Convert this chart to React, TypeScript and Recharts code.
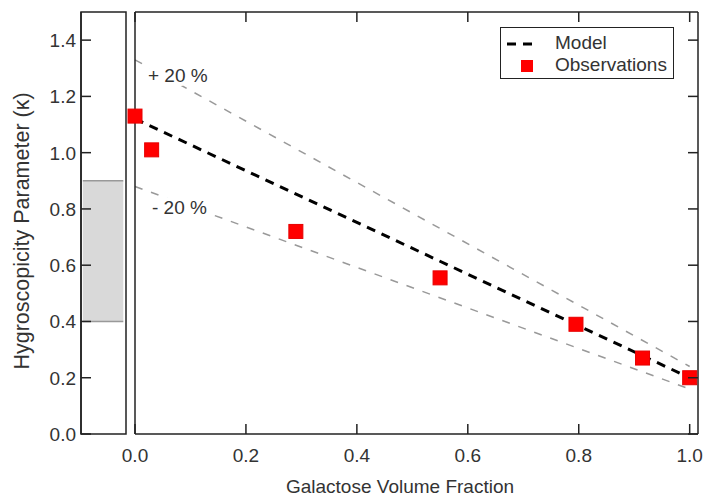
import {
  ComposedChart,
  Area,
  Line,
  Scatter,
  XAxis,
  YAxis,
  ReferenceArea,
  Legend,
} from "recharts";

// observations
const obsFraction = [0, 0.03, 0.29, 0.55, 0.795, 0.915, 1.0];
const obsKappa = [1.13, 1.01, 0.72, 0.555, 0.39, 0.27, 0.2];

// model line and +/- 20 % envelope (end points)
const lineFraction = [0, 1];
const modelKappa = [1.12, 0.2];
const upperKappa = [1.33, 0.24];
const lowerKappa = [0.88, 0.16];

// shaded range in the left panel
const rangeX = [0.04, 0.94];
const kappaRangeLow = 0.4;
const kappaRangeHigh = 0.9;

const xTicks = [0, 0.2, 0.4, 0.6, 0.8, 1.0];
const yTicks = [0, 0.2, 0.4, 0.6, 0.8, 1.0, 1.2, 1.4];

const FONT = '"Liberation Sans", Arial, sans-serif';
const TEXT = "#333";
const AXIS = "#222";

const obsData = obsFraction.map((x, i) => ({ x, y: obsKappa[i] }));
const toLine = (ys: number[]) => lineFraction.map((x, i) => ({ x, y: ys[i] }));
const modelData = toLine(modelKappa);
const upperData = toLine(upperKappa);
const lowerData = toLine(lowerKappa);
const rangeData = rangeX.map((x) => ({ x, lo: kappaRangeLow, hi: kappaRangeHigh }));

const BottomTick = (props: any) => {
  const { x, y, payload } = props;
  return (
    <g>
      <line x1={x} y1={y} x2={x} y2={y - 10} stroke={AXIS} strokeWidth={1.5} />
      <text x={x} y={y + 28} textAnchor="middle" fill={TEXT} fontSize={19} fontFamily={FONT}>
        {Number(payload.value).toFixed(1)}
      </text>
    </g>
  );
};

const TopTick = (props: any) => {
  const { x, y } = props;
  return <line x1={x} y1={y} x2={x} y2={y + 10} stroke={AXIS} strokeWidth={1.5} />;
};

const RightTick = (props: any) => {
  const { x, y } = props;
  return <line x1={x} y1={y} x2={x - 10} y2={y} stroke={AXIS} strokeWidth={1.5} />;
};

const LeftTick = (props: any) => {
  const { x, y, payload } = props;
  return (
    <g>
      <line x1={x} y1={y} x2={x + 10} y2={y} stroke={AXIS} strokeWidth={1.5} />
      <text x={x - 5} y={y + 7} textAnchor="end" fill={TEXT} fontSize={19} fontFamily={FONT}>
        {Number(payload.value).toFixed(1)}
      </text>
    </g>
  );
};

const SquareDot = (props: any) => {
  const { cx, cy } = props;
  return <rect x={cx - 7} y={cy - 7} width={14} height={14} fill="#ff0000" stroke="#e60000" strokeWidth={1} />;
};

const renderLegend = () => (
  <div
    style={{
      width: 172,
      height: 50,
      border: `1.5px solid ${AXIS}`,
      background: "#fff",
      fontFamily: FONT,
      fontSize: 19,
      color: TEXT,
      position: "relative",
    }}
  >
    <svg width={40} height={50} style={{ position: "absolute", left: 0, top: 0 }}>
      <line x1={6} y1={16} x2={36} y2={16} stroke="#000" strokeWidth={3} strokeDasharray="9 7" />
      <rect x={20} y={32} width={12} height={12} fill="#ff0000" />
    </svg>
    <div style={{ position: "absolute", left: 54, top: 4, lineHeight: "22px" }}>Model</div>
    <div style={{ position: "absolute", left: 54, top: 26, lineHeight: "22px" }}>Observations</div>
  </div>
);

export default function App() {
  return (
    <div style={{ position: "absolute", left: 0, top: 0, width: 704, height: 497, background: "#fff" }}>
      <div style={{ position: "absolute", left: 0, top: 0 }}>
        <ComposedChart
          width={130}
          height={497}
          data={rangeData}
          margin={{ top: 12, right: 4, bottom: 63, left: 0 }}
        >
          <XAxis type="number" dataKey="x" domain={[0, 1]} hide />
          <YAxis
            type="number"
            domain={[0, 1.5]}
            ticks={yTicks}
            width={81}
            tickSize={0}
            tickMargin={0}
            tickLine={false}
            tick={<LeftTick />}
            axisLine={{ stroke: AXIS, strokeWidth: 1.5 }}
            interval={0}
          />
          <Area
            type="linear"
            dataKey={(d: any) => [d.lo, d.hi]}
            fill="#d9d9d9"
            fillOpacity={1}
            stroke="none"
            isAnimationActive={false}
          />
          <Line type="linear" dataKey="hi" stroke="#999" strokeWidth={1.5} dot={false} isAnimationActive={false} />
          <Line type="linear" dataKey="lo" stroke="#999" strokeWidth={1.5} dot={false} isAnimationActive={false} />
          <ReferenceArea x1={0} x2={1} y1={0} y2={1.5} fill="none" stroke={AXIS} strokeWidth={1.5} />
        </ComposedChart>
      </div>
      <div style={{ position: "absolute", left: 0, top: 0 }}>
        <ComposedChart width={704} height={497} margin={{ top: 11, right: 5, bottom: 33, left: 134 }}>
          <XAxis
            xAxisId="bottom"
            type="number"
            dataKey="x"
            domain={[0, 1.015]}
            ticks={xTicks}
            height={30}
            tickSize={0}
            tickMargin={0}
            tickLine={false}
            tick={<BottomTick />}
            axisLine={{ stroke: AXIS, strokeWidth: 1.5 }}
            interval={0}
          />
          <XAxis
            xAxisId="top"
            orientation="top"
            type="number"
            dataKey="x"
            domain={[0, 1.015]}
            ticks={xTicks}
            height={1}
            tickSize={0}
            tickMargin={0}
            tickLine={false}
            tick={<TopTick />}
            axisLine={{ stroke: AXIS, strokeWidth: 1.5 }}
            interval={0}
          />
          <YAxis
            yAxisId="left"
            type="number"
            domain={[0, 1.5]}
            ticks={yTicks}
            width={1}
            tick={false}
            tickLine={false}
            axisLine={{ stroke: AXIS, strokeWidth: 1.5 }}
          />
          <YAxis
            yAxisId="right"
            orientation="right"
            type="number"
            domain={[0, 1.5]}
            ticks={yTicks}
            width={1}
            tickSize={0}
            tickMargin={0}
            tickLine={false}
            tick={<RightTick />}
            axisLine={{ stroke: AXIS, strokeWidth: 1.5 }}
            interval={0}
          />
          {/* upper envelope bound to the top/right axes (same scales) so they get ticks */}
          <Line
            xAxisId="top"
            yAxisId="right"
            data={upperData}
            dataKey="y"
            stroke="#999"
            strokeWidth={1.5}
            strokeDasharray="8 9"
            dot={false}
            isAnimationActive={false}
            legendType="none"
          />
          <Line
            xAxisId="bottom"
            yAxisId="left"
            data={lowerData}
            dataKey="y"
            stroke="#999"
            strokeWidth={1.5}
            strokeDasharray="8 9"
            dot={false}
            isAnimationActive={false}
            legendType="none"
          />
          <Line
            xAxisId="bottom"
            yAxisId="left"
            data={modelData}
            dataKey="y"
            name="Model"
            stroke="#000"
            strokeWidth={3}
            strokeDasharray="9 7"
            dot={false}
            isAnimationActive={false}
          />
          <Scatter
            xAxisId="bottom"
            yAxisId="left"
            data={obsData}
            dataKey="y"
            name="Observations"
            shape={<SquareDot />}
            isAnimationActive={false}
          />
          <Legend
            layout="horizontal"
            verticalAlign="middle"
            align="center"
            content={renderLegend}
            wrapperStyle={{ position: "absolute", left: 500, top: 27, width: 174 }}
          />
        </ComposedChart>
      </div>
      <svg
        width={704}
        height={497}
        style={{ position: "absolute", left: 0, top: 0, pointerEvents: "none" }}
        fontFamily={FONT}
        fill={TEXT}
      >
        <text x={400} y={493} textAnchor="middle" fontSize={19}>
          Galactose Volume Fraction
        </text>
        <text x={29} y={231} textAnchor="middle" fontSize={21.5} transform="rotate(-90 29 231)">
          Hygroscopicity Parameter (κ)
        </text>
        <text x={148} y={82} fontSize={19} stroke="#fff" strokeWidth={8} paintOrder="stroke">
          + 20 %
        </text>
        <text x={152} y={214} fontSize={19} stroke="#fff" strokeWidth={8} paintOrder="stroke">
          - 20 %
        </text>
      </svg>
    </div>
  );
}
